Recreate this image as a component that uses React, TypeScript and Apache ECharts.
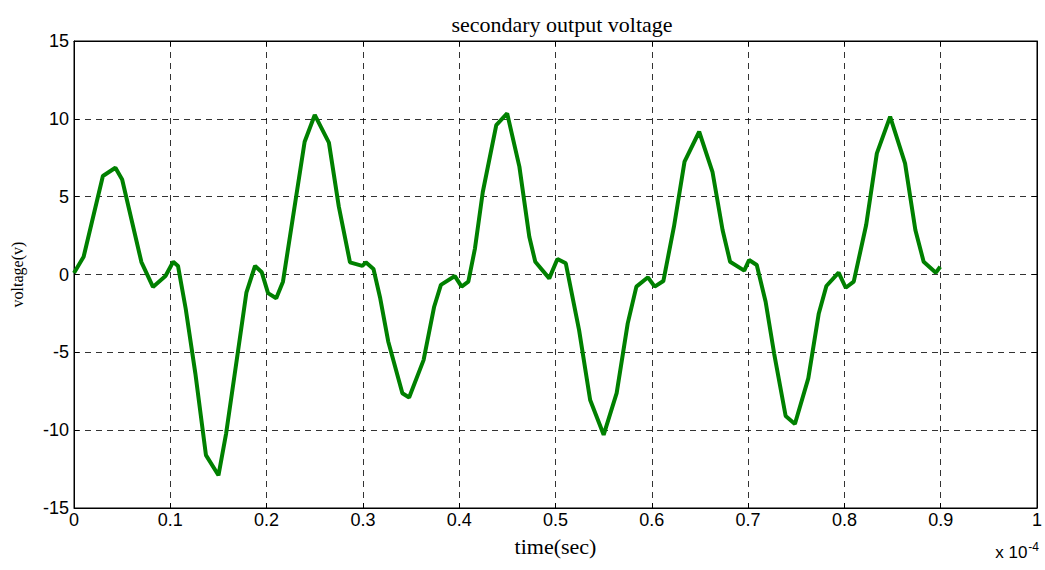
import React, { useEffect, useRef } from "react";
import * as echarts from "echarts";

const timeValues = [
  0, 0.01, 0.03, 0.043, 0.05, 0.07, 0.082, 0.095, 0.103, 0.108, 0.116, 0.126, 0.137, 0.15, 0.158, 0.17, 0.179, 0.188,
  0.195, 0.2015, 0.21, 0.217, 0.2395, 0.25, 0.2647, 0.275, 0.2866, 0.2994, 0.303, 0.311, 0.318, 0.3263, 0.341, 0.348,
  0.363, 0.374, 0.381, 0.3955, 0.4025, 0.4095, 0.4164, 0.4245, 0.4385, 0.4498, 0.4625, 0.4728, 0.479, 0.4935, 0.502,
  0.5107, 0.5245, 0.536, 0.55, 0.5635, 0.575, 0.584, 0.596, 0.603, 0.612, 0.623, 0.634, 0.6492, 0.663, 0.6735, 0.6813,
  0.696, 0.701, 0.709, 0.7182, 0.727, 0.739, 0.7486, 0.7625, 0.7734, 0.7813, 0.794, 0.8014, 0.8097, 0.8226, 0.8337,
  0.8475, 0.863, 0.8737, 0.8823, 0.895, 0.8995,
];
const voltageValues = [
  0.1, 1.14, 6.33, 6.86, 6.1, 0.8, -0.8, -0.1, 0.82, 0.55, -2.2, -6.35, -11.6, -12.9, -10.2, -5.06, -1.17, 0.55,
  0.14, -1.2, -1.53, -0.46, 8.53, 10.25, 8.47, 4.36, 0.78, 0.55, 0.78, 0.35, -1.53, -4.3, -7.63, -7.9,
  -5.5, -2.07, -0.67, -0.1, -0.78, -0.46, 1.68, 5.3, 9.6, 10.35, 6.93, 2.43, 0.82, -0.25, 1.0,
  0.72, -3.57, -8.06, -10.3, -7.62, -3.14, -0.78, -0.18, -0.78, -0.42, 3.07, 7.25, 9.17, 6.6, 2.86, 0.82,
  0.25, 0.93, 0.61, -1.75, -5.06, -9.09, -9.6, -6.67, -2.5, -0.74, 0.12, -0.85, -0.46, 3.18, 7.78,
  10.14, 7.14, 2.86, 0.82, 0.12, 0.5,
];
const xTickValues = [0, 0.1, 0.2, 0.3, 0.4, 0.5, 0.6, 0.7, 0.8, 0.9, 1];
const yTickValues = [-15, -10, -5, 0, 5, 10, 15];

export default function App() {
  const ref = useRef<HTMLDivElement>(null);
  useEffect(() => {
    if (!ref.current) return;
    const chart = echarts.init(ref.current, null, { renderer: "svg" });
    const data = timeValues.map((t, i) => [t, voltageValues[i]]);
    const labelFont = { fontFamily: "Liberation Sans", fontSize: 18, color: "#000" };
    const dashed = { show: true, lineStyle: { color: "#000", type: [6, 5] as any, width: 1, opacity: 0.8 } };
    chart.setOption({
      animation: false,
      backgroundColor: "#fff",
      title: {
        text: "secondary output voltage",
        left: 557,
        textAlign: "center",
        top: 8,
        textStyle: { fontFamily: "Liberation Serif", fontSize: 22, fontWeight: "normal", color: "#000" },
      },
      grid: { left: 74, right: 4, top: 41, bottom: 62, show: true, borderColor: "#000", borderWidth: 1, backgroundColor: "#fff" },
      xAxis: [
        {
          type: "value",
          min: 0,
          max: 1,
          interval: 0.1,
          name: "time(sec)",
          nameLocation: "middle",
          nameGap: 27,
          nameTextStyle: { fontFamily: "Liberation Serif", fontSize: 22, color: "#000" },
          axisLine: { show: true, onZero: false, lineStyle: { color: "#000", width: 1 } },
          axisTick: { show: true, inside: true, length: 5, lineStyle: { color: "#000" } },
          axisLabel: {
            ...labelFont,
            margin: 3,
            formatter: (v: number) => {
              const m = xTickValues.find((t) => Math.abs(t - v) < 1e-6);
              return m === undefined ? "" : String(m);
            },
          },
          splitLine: dashed,
        },
        {
          type: "value",
          position: "top",
          min: 0,
          max: 1,
          interval: 0.1,
          axisLine: { show: true, onZero: false, lineStyle: { color: "#000" } },
          axisTick: { show: true, inside: true, length: 5, lineStyle: { color: "#000" } },
          axisLabel: { show: false },
          splitLine: { show: false },
        },
      ],
      yAxis: [
        {
          type: "value",
          min: -15,
          max: 15,
          interval: 5,
          name: "voltage(v)",
          nameLocation: "middle",
          nameRotate: 90,
          nameGap: 49,
          nameTextStyle: { fontFamily: "Liberation Serif", fontSize: 16, color: "#000" },
          axisLine: { show: true, onZero: false, lineStyle: { color: "#000" } },
          axisTick: { show: true, inside: true, length: 5, lineStyle: { color: "#000" } },
          axisLabel: {
            ...labelFont,
            margin: 5,
            formatter: (v: number) => {
              const m = yTickValues.find((t) => Math.abs(t - v) < 1e-6);
              return m === undefined ? "" : String(m);
            },
          },
          splitLine: dashed,
        },
        {
          type: "value",
          position: "right",
          min: -15,
          max: 15,
          interval: 5,
          axisLine: { show: true, onZero: false, lineStyle: { color: "#000" } },
          axisTick: { show: true, inside: true, length: 5, lineStyle: { color: "#000" } },
          axisLabel: { show: false },
          splitLine: { show: false },
        },
      ],
      graphic: [
        {
          type: "text",
          right: 6,
          top: 541,
          style: {
            text: "x 10{sup|-4}",
            rich: {
              sup: { fontFamily: "Liberation Sans", fontSize: 12, verticalAlign: "top", padding: [0, 0, 10, 1], fill: "#000" },
            },
            fontFamily: "Liberation Sans",
            fontSize: 17,
            fill: "#000",
          },
        },
      ],
      series: [
        {
          type: "line",
          data,
          xAxisIndex: 0,
          yAxisIndex: 0,
          showSymbol: false,
          symbol: "none",
          lineStyle: { color: "#008000", width: 4 },
          itemStyle: { color: "#008000" },
        },
      ],
    });
    return () => chart.dispose();
  }, []);
  return <div ref={ref} style={{ width: 1045, height: 570, position: "absolute", left: 0, top: 0 }} />;
}
